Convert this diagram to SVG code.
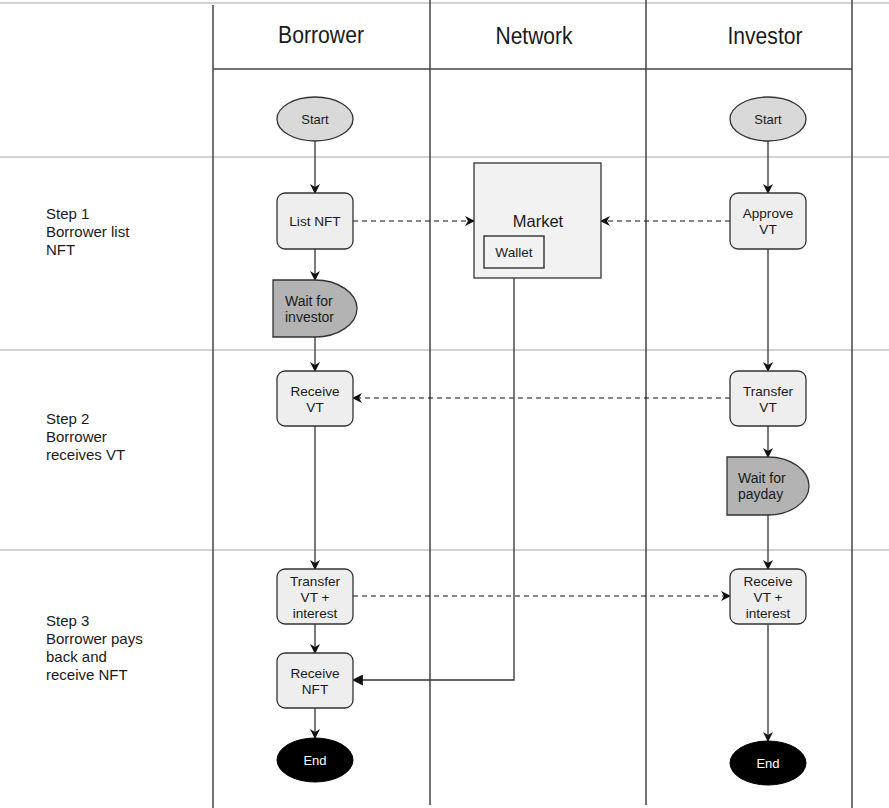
<svg xmlns="http://www.w3.org/2000/svg" width="889" height="808" viewBox="0 0 889 808">
<defs>
<style>
text{font-family:"Liberation Sans",Arial,sans-serif;fill:#1a1a1a}
.sep{stroke:#d3d3d3;stroke-width:2;fill:none}
.lane{stroke:#444;stroke-width:1.5;fill:none}
.hdr{font-size:23px;text-anchor:middle}
.step{font-size:15px}
.box{fill:#eeeeee;stroke:#333;stroke-width:1.3}
.lbl{font-size:13.6px;text-anchor:middle}
.term{font-size:13px;text-anchor:middle}
.dl{font-size:14px}
.start{fill:#d9d9d9;stroke:#333;stroke-width:1.3}
.end{fill:#000;stroke:#000}
.delay{fill:#b3b3b3;stroke:#333;stroke-width:1.3}
.edge{stroke:#333;stroke-width:1.3;fill:none}
.dash{stroke:#111;stroke-width:1.2;fill:none;stroke-dasharray:5 4}
</style>
<marker id="arr" viewBox="0 0 10 10" refX="9" refY="5" markerWidth="10" markerHeight="10" markerUnits="userSpaceOnUse" orient="auto">
<path d="M0,0 L10,5 L0,10 L3,5 Z" fill="#111"/>
</marker>
<marker id="blk" viewBox="0 0 10 10" refX="9" refY="5" markerWidth="11" markerHeight="11" markerUnits="userSpaceOnUse" orient="auto">
<path d="M0,0 L10,5 L0,10 Z" fill="#111"/>
</marker>
</defs>
<rect width="889" height="808" fill="#fff"/>
<g id="swimlanes">
<line class="sep" x1="0" y1="3" x2="889" y2="3"/>
<line class="sep" x1="0" y1="157" x2="889" y2="157"/>
<line class="sep" x1="0" y1="350" x2="889" y2="350"/>
<line class="sep" x1="0" y1="550" x2="889" y2="550"/>
<line class="lane" x1="213" y1="5" x2="213" y2="808" stroke="#111"/>
<line class="lane" x1="430" y1="0" x2="430" y2="805"/>
<line class="lane" x1="646" y1="0" x2="646" y2="805"/>
<line class="lane" x1="852" y1="0" x2="852" y2="808"/>
<line class="lane" x1="213" y1="69" x2="852" y2="69" stroke="#111"/>
<text class="hdr" x="321" y="43" textLength="86" lengthAdjust="spacingAndGlyphs">Borrower</text>
<text class="hdr" x="534" y="44" textLength="77" lengthAdjust="spacingAndGlyphs">Network</text>
<text class="hdr" x="765" y="44" textLength="75" lengthAdjust="spacingAndGlyphs">Investor</text>
</g>
<g id="step-labels">
<text class="step" x="46" y="219">Step 1</text>
<text class="step" x="46" y="237">Borrower list</text>
<text class="step" x="46" y="255">NFT</text>
<text class="step" x="46" y="424">Step 2</text>
<text class="step" x="46" y="442">Borrower</text>
<text class="step" x="46" y="460">receives VT</text>
<text class="step" x="46" y="626">Step 3</text>
<text class="step" x="46" y="644">Borrower pays</text>
<text class="step" x="46" y="662">back and</text>
<text class="step" x="46" y="680">receive NFT</text>
</g>
<g id="connectors">
<line class="edge" x1="315" y1="141" x2="315" y2="193" marker-end="url(#arr)"/>
<line class="edge" x1="315" y1="249" x2="315" y2="280" marker-end="url(#arr)"/>
<line class="edge" x1="315" y1="337" x2="315" y2="371" marker-end="url(#arr)"/>
<line class="edge" x1="315" y1="426" x2="315" y2="569" marker-end="url(#arr)"/>
<line class="edge" x1="315" y1="624" x2="315" y2="653" marker-end="url(#arr)"/>
<line class="edge" x1="315" y1="708" x2="315" y2="738" marker-end="url(#arr)"/>
<line class="edge" x1="768" y1="141" x2="768" y2="193" marker-end="url(#arr)"/>
<line class="edge" x1="768" y1="249" x2="768" y2="371" marker-end="url(#arr)"/>
<line class="edge" x1="768" y1="426" x2="768" y2="457" marker-end="url(#arr)"/>
<line class="edge" x1="768" y1="515" x2="768" y2="569" marker-end="url(#arr)"/>
<line class="edge" x1="768" y1="624" x2="768" y2="741" marker-end="url(#arr)"/>
<line class="dash" x1="353" y1="221" x2="474" y2="221" marker-end="url(#arr)"/>
<line class="dash" x1="730" y1="221" x2="601" y2="221" marker-end="url(#arr)"/>
<line class="dash" x1="730" y1="398" x2="353" y2="398" marker-end="url(#arr)"/>
<line class="dash" x1="353" y1="596" x2="730" y2="596" marker-end="url(#arr)"/>
<path class="edge" d="M514,268 V680 H353" stroke="#111" marker-end="url(#blk)"/>
</g>
<g id="start-borrower"><ellipse class="start" cx="315" cy="119" rx="38" ry="22"/><text class="term" x="315" y="124">Start</text></g>
<g id="start-investor"><ellipse class="start" cx="768" cy="119" rx="38" ry="22"/><text class="term" x="768" y="124">Start</text></g>
<g id="list-nft"><rect class="box" x="277" y="193" width="76" height="56" rx="8"/><text class="lbl" x="315" y="226">List NFT</text></g>
<g id="approve-vt"><rect class="box" x="730" y="193" width="76" height="56" rx="8"/><text class="lbl" x="768" y="218">Approve</text><text class="lbl" x="768" y="234">VT</text></g>
<g id="market"><rect x="474" y="163" width="127" height="115" fill="#f2f2f2" stroke="#333" stroke-width="1.3"/><text x="538" y="227" font-size="16.5" text-anchor="middle">Market</text></g>
<g id="wallet"><rect x="484" y="236" width="60" height="32" fill="#f2f2f2" stroke="#222" stroke-width="1.3"/><text class="lbl" x="514" y="257">Wallet</text></g>
<g id="wait-investor"><path class="delay" d="M273,280 H315 A42,28.5 0 0 1 315,337 H273 Z"/><text class="dl" x="285" y="306">Wait for</text><text class="dl" x="285" y="322">investor</text></g>
<g id="receive-vt"><rect class="box" x="277" y="371" width="76" height="55" rx="8"/><text class="lbl" x="315" y="396">Receive</text><text class="lbl" x="315" y="412">VT</text></g>
<g id="transfer-vt"><rect class="box" x="730" y="371" width="76" height="55" rx="8"/><text class="lbl" x="768" y="396">Transfer</text><text class="lbl" x="768" y="412">VT</text></g>
<g id="wait-payday"><path class="delay" d="M727,457 H768 A41,29 0 0 1 768,515 H727 Z"/><text class="dl" x="738" y="483">Wait for</text><text class="dl" x="738" y="499">payday</text></g>
<g id="transfer-vt-interest"><rect class="box" x="277" y="569" width="76" height="55" rx="8"/><text class="lbl" x="315" y="586">Transfer</text><text class="lbl" x="315" y="602">VT +</text><text class="lbl" x="315" y="618">interest</text></g>
<g id="receive-vt-interest"><rect class="box" x="730" y="569" width="76" height="55" rx="8"/><text class="lbl" x="768" y="586">Receive</text><text class="lbl" x="768" y="602">VT +</text><text class="lbl" x="768" y="618">interest</text></g>
<g id="receive-nft"><rect class="box" x="277" y="653" width="76" height="55" rx="8"/><text class="lbl" x="315" y="678">Receive</text><text class="lbl" x="315" y="694">NFT</text></g>
<g id="end-borrower"><ellipse class="end" cx="315" cy="760" rx="38" ry="22"/><text class="term" x="315" y="765" style="fill:#fff">End</text></g>
<g id="end-investor"><ellipse class="end" cx="768" cy="763" rx="38" ry="22"/><text class="term" x="768" y="768" style="fill:#fff">End</text></g>
</svg>
